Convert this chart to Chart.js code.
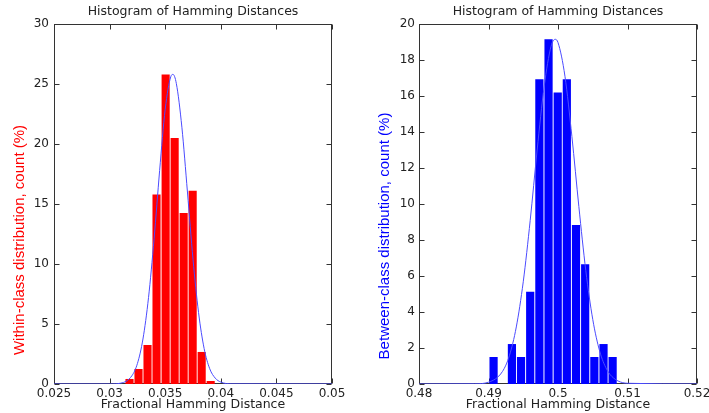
<!DOCTYPE html>
<html>
<head>
<meta charset="utf-8">
<script src="https://cdn.jsdelivr.net/npm/chart.js@4.4.1/dist/chart.umd.min.js"></script>
<style>
  body { margin: 0; background: #fff; }
  #wrap { display: flex; width: 709px; height: 413px; }
  canvas { display: block; }
</style>
</head>
<body>
<div id="wrap">
  <canvas id="within" width="360" height="413"></canvas>
  <canvas id="between" width="349" height="413"></canvas>
</div>
<script>
// within-class histogram (left)
const withinBins = [0.03179, 0.03260, 0.03341, 0.03422, 0.03504, 0.03585, 0.03666, 0.03747, 0.03828, 0.03909];
const withinCounts = [0.42, 1.25, 3.25, 15.8, 25.8, 20.5, 14.25, 16.1, 2.67, 0.25];
const withinFitX = [0.025, 0.03, 0.031, 0.032, 0.0325, 0.033, 0.0335, 0.034, 0.0345, 0.035, 0.0355, 0.0357, 0.036, 0.0365, 0.037, 0.0375, 0.038, 0.0385, 0.039, 0.0395, 0.04, 0.041, 0.05];
const withinFitY = [0, 0, 0.07, 0.68, 1.7, 3.75, 7.2, 12.1, 17.8, 22.9, 25.6, 25.8, 25.05, 21.4, 16.0, 10.4, 5.95, 2.96, 1.28, 0.49, 0.16, 0.01, 0];
const withinXTicks = [0.025, 0.03, 0.035, 0.04, 0.045, 0.05];
const withinYTicks = [0, 5, 10, 15, 20, 25, 30];

// between-class histogram (right)
const betweenBins = [0.49073, 0.49205, 0.49337, 0.49468, 0.49600, 0.49732, 0.49864, 0.49996, 0.50127, 0.50259, 0.50391, 0.50523, 0.50655, 0.50786];
const betweenCounts = [1.5, 0, 2.22, 1.5, 5.13, 16.93, 19.15, 16.2, 16.93, 8.83, 6.65, 1.5, 2.22, 1.5];
const betweenFitX = [0.48, 0.488, 0.49, 0.492, 0.493, 0.494, 0.495, 0.496, 0.497, 0.498, 0.499, 0.4996, 0.5, 0.501, 0.502, 0.503, 0.504, 0.505, 0.506, 0.507, 0.508, 0.51, 0.52];
const betweenFitY = [0, 0.01, 0.1, 0.69, 1.57, 3.17, 5.68, 9.09, 13.0, 16.5, 18.76, 19.15, 18.97, 17.1, 13.75, 9.86, 6.3, 3.59, 1.82, 0.82, 0.33, 0.04, 0];
const betweenXTicks = [0.48, 0.49, 0.5, 0.51, 0.52];
const betweenYTicks = [0, 2, 4, 6, 8, 10, 12, 14, 16, 18, 20];

const FONT = 'DejaVu Sans';
const INK = '#222';

// matlab style box with inward ticks
const framePlugin = {
  id: 'frame',
  beforeDatasetsDraw(chart) {
    const { ctx, chartArea: a, scales } = chart;
    const L = Math.round(a.left) + 0.5, R = Math.round(a.right) - 0.5;
    const T = Math.round(a.top) + 0.5, B = Math.round(a.bottom) - 0.5;
    ctx.save();
    ctx.strokeStyle = '#333';
    ctx.lineWidth = 1;
    ctx.strokeRect(L, T, R - L, B - T);
    ctx.beginPath();
    scales.x.ticks.forEach(t => {
      const px = Math.round(scales.x.getPixelForValue(t.value)) + 0.5;
      ctx.moveTo(px, B); ctx.lineTo(px, B - 5);
      ctx.moveTo(px, T); ctx.lineTo(px, T + 5);
    });
    scales.y.ticks.forEach(t => {
      const py = Math.round(scales.y.getPixelForValue(t.value)) + 0.5;
      ctx.moveTo(L, py); ctx.lineTo(L + 5, py);
      ctx.moveTo(R, py); ctx.lineTo(R - 5, py);
    });
    ctx.stroke();
    ctx.restore();
  }
};

// rotated y label, sits a bit below the axis middle like the original
const sideLabel = {
  id: 'sideLabel',
  afterDraw(chart, args, opts) {
    const { ctx, chartArea: a } = chart;
    ctx.save();
    ctx.translate(opts.x, (a.top + a.bottom) / 2 + opts.shift);
    ctx.rotate(-Math.PI / 2);
    ctx.font = '15px "Liberation Sans"';
    ctx.fillStyle = opts.color;
    ctx.textAlign = 'center';
    ctx.textBaseline = 'middle';
    ctx.fillText(opts.text, 0, 0);
    ctx.restore();
  }
};

function makeChart(id, c) {
  return new Chart(document.getElementById(id), {
    type: 'bar',
    data: {
      datasets: [
        {
          type: 'line',
          data: c.fitX.map((x, i) => ({ x, y: c.fitY[i] })),
          borderColor: '#4b4bff',
          borderWidth: 1,
          pointRadius: 0,
          cubicInterpolationMode: 'monotone',
          order: 0
        },
        {
          type: 'bar',
          data: c.bins.map((x, i) => ({ x, y: c.counts[i] })),
          backgroundColor: c.color,
          barPercentage: 0.9,
          categoryPercentage: 1,
          order: 1
        }
      ]
    },
    options: {
      responsive: false,
      animation: false,
      layout: { padding: { left: 0, right: c.padRight, top: 0, bottom: 0 } },
      plugins: {
        legend: { display: false },
        tooltip: { enabled: false },
        title: {
          display: true,
          text: 'Histogram of Hamming Distances',
          fullSize: false,
          color: INK,
          font: { family: FONT, size: 12.5, weight: 'normal', lineHeight: 1.2 },
          padding: { top: 4.5, bottom: 4.5 }
        },
        sideLabel: { text: c.yLabel, color: c.color, x: c.labelX, shift: c.labelShift }
      },
      scales: {
        x: {
          type: 'linear',
          min: c.xTicks[0],
          max: c.xTicks[c.xTicks.length - 1],
          offset: false,
          grid: { display: false, drawTicks: false },
          border: { display: false },
          ticks: {
            padding: 3, autoSkip: false, maxRotation: 0, color: INK,
            font: { family: FONT, size: 12 },
            callback: v => String(v)
          },
          afterBuildTicks: s => { s.ticks = c.xTicks.map(v => ({ value: v })); },
          afterFit: s => { s.height = 29; s.paddingLeft = 0; s.paddingRight = 0; },
          title: {
            display: true,
            text: 'Fractional Hamming Distance',
            color: INK,
            font: { family: FONT, size: 12.5, lineHeight: 1.2 },
            padding: { top: 0, bottom: 0.8 }
          }
        },
        y: {
          min: 0,
          max: c.yTicks[c.yTicks.length - 1],
          grid: { display: false, drawTicks: false },
          border: { display: false },
          ticks: {
            padding: c.yPad, autoSkip: false, color: INK,
            font: { family: FONT, size: 12 }
          },
          afterBuildTicks: s => { s.ticks = c.yTicks.map(v => ({ value: v })); },
          afterFit: s => { s.width = c.yWidth; }
        }
      }
    },
    plugins: [framePlugin, sideLabel]
  });
}

makeChart('within', {
  bins: withinBins, counts: withinCounts, fitX: withinFitX, fitY: withinFitY,
  xTicks: withinXTicks, yTicks: withinYTicks, color: '#ff0000',
  yLabel: 'Within-class distribution, count (%)',
  labelX: 20, labelShift: 36, yWidth: 54, yPad: 5, padRight: 28
});

makeChart('between', {
  bins: betweenBins, counts: betweenCounts, fitX: betweenFitX, fitY: betweenFitY,
  xTicks: betweenXTicks, yTicks: betweenYTicks, color: '#0000ff',
  yLabel: 'Between-class distribution, count (%)',
  labelX: 25, labelShift: 32, yWidth: 59, yPad: 4, padRight: 12
});
</script>
</body>
</html>
